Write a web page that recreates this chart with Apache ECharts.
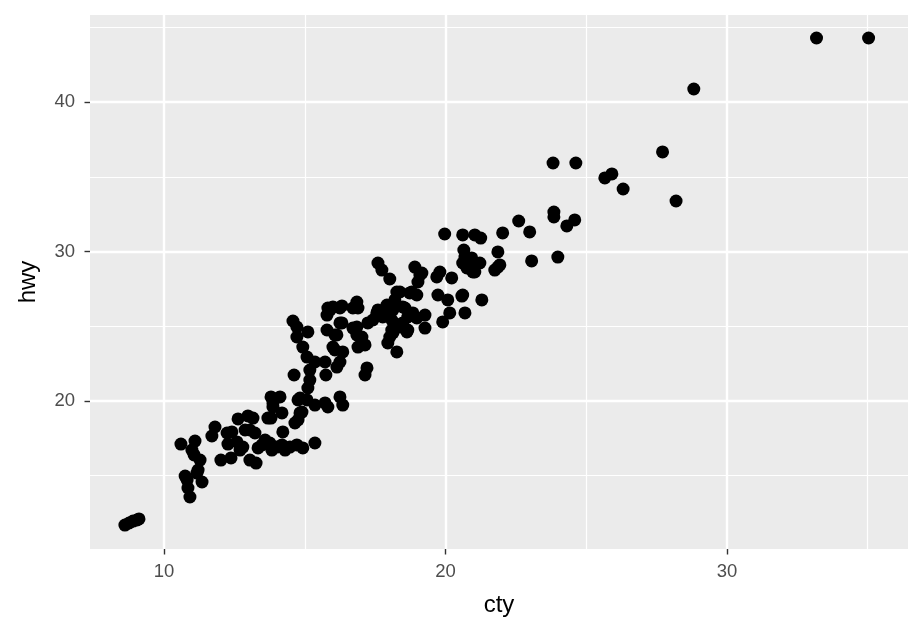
<!DOCTYPE html>
<html>
<head>
<meta charset="utf-8">
<script src="https://cdn.jsdelivr.net/npm/echarts@6/dist/echarts.min.js"></script>
<style>
html,body{margin:0;padding:0;background:#fff;}
#chart{width:922px;height:634px;}
</style>
</head>
<body>
<div id="chart"></div>
<script>
// ---- data (jittered points) ----
const cty = [
8.61,8.76,8.90,9.04,9.11,
10.60,11.10,10.99,11.28,11.21,10.82,11.35,10.85,10.92,11.17,11.07,10.75,
11.81,11.70,12.24,12.27,12.63,12.98,13.16,13.05,13.23,12.59,12.80,12.70,12.02,12.38,13.05,13.27,13.34,13.76,13.83,14.19,14.30,14.22,13.80,13.80,14.12,13.87,14.19,14.72,14.65,14.76,14.93,15.36,14.83,13.87,14.90,14.76,12.88,12.41,13.69,13.48,14.01,14.47,13.59,
14.58,14.72,15.11,14.72,14.93,15.08,15.36,15.72,15.18,14.62,15.75,15.18,15.11,14.83,15.08,15.36,15.72,15.82,16.25,16.35,15.79,16.07,16.25,16.07,16.35,16.25,16.14,15.82,16.00,16.32,15.79,16.32,16.14,16.00,
17.21,17.14,16.71,17.03,16.89,17.14,17.95,18.27,18.13,18.48,18.63,19.27,17.56,18.02,18.48,18.84,19.27,16.85,16.89,17.60,17.74,18.02,18.91,19.09,19.02,17.60,17.92,18.20,18.13,17.77,18.09,18.56,18.66,18.38,18.09,18.98,17.42,17.24,16.85,18.27,18.80,18.98,16.85,18.02,16.71,16.25,15.90,
19.69,19.80,20.22,19.73,20.08,20.58,20.69,20.15,19.90,19.97,20.61,21.04,21.25,20.65,20.69,20.61,20.76,20.97,20.86,21.22,21.04,21.86,21.75,21.93,21.86,22.03,22.60,22.99,23.06,23.99,18.73,20.61,21.29,19.16,18.38,18.66,20.79,20.93,
23.85,23.85,24.59,24.31,23.82,24.63,25.66,25.91,26.31,27.71,28.19,28.82,33.18,35.03
];
const hwy = [
11.70,11.84,11.97,12.04,12.11,
17.12,17.32,16.72,16.05,15.38,14.71,14.58,14.18,13.58,15.18,16.39,14.98,
18.26,17.66,17.86,17.12,18.80,19.00,18.86,18.06,17.86,17.26,16.92,16.72,16.05,16.19,16.05,15.85,16.86,17.19,16.72,17.06,16.72,17.93,18.86,20.27,20.27,19.60,19.20,17.06,18.53,20.07,16.86,17.19,19.20,19.87,19.26,18.73,18.06,17.93,18.86,17.06,16.92,16.92,17.39,
25.35,24.95,24.62,24.28,23.61,22.94,22.61,22.61,22.07,21.74,21.74,21.40,20.87,20.20,20.07,19.73,19.87,19.60,20.27,19.73,24.75,24.42,25.22,23.41,23.28,22.61,22.27,26.22,26.29,26.36,25.75,25.22,24.42,23.61,
22.21,21.74,24.88,24.28,23.61,23.75,23.88,23.28,24.55,25.22,24.62,24.88,25.89,26.09,26.29,25.89,25.75,26.62,26.22,29.23,28.76,28.16,28.96,28.43,27.96,26.09,26.42,26.76,26.09,25.62,25.42,26.22,25.62,24.95,24.75,25.55,25.42,25.22,24.95,27.29,27.29,27.09,24.42,24.28,26.22,26.22,26.09,
28.30,28.63,28.23,27.09,26.76,27.02,25.89,25.89,25.29,31.17,31.11,31.11,30.90,30.10,29.63,29.23,28.90,28.63,29.23,29.23,28.63,28.96,28.76,29.10,29.97,31.24,32.04,31.31,29.37,29.63,27.23,27.09,26.76,28.56,27.29,24.75,29.43,29.57,
32.64,32.31,32.11,31.71,35.92,35.92,34.92,35.19,34.18,36.66,33.38,40.87,44.28,44.28
];
const xTicks = [10, 20, 30];
const xMinor = [15, 25, 35];
const yTicks = [20, 30, 40];
const yMinor = [15, 25, 35, 45];
const xRange = [7.37, 36.43];
const yRange = [10.10, 45.82];

// ---- chart ----
const FONT = '"Liberation Sans", Arial, Helvetica, sans-serif';
const points = cty.map((c, i) => [c, hwy[i]]);

const gridLines = []
  .concat(xMinor.map(v => ({ xAxis: v, lineStyle: { width: 1.2 } })))
  .concat(yMinor.map(v => ({ yAxis: v, lineStyle: { width: 1.2 } })))
  .concat(xTicks.map(v => ({ xAxis: v, lineStyle: { width: 2.4 } })))
  .concat(yTicks.map(v => ({ yAxis: v, lineStyle: { width: 2.4 } })));

const chart = echarts.init(document.getElementById('chart'), null, { renderer: 'canvas' });
chart.setOption({
  animation: false,
  backgroundColor: '#ffffff',
  grid: {
    left: 90, top: 15, right: 14, bottom: 85,
    show: true, backgroundColor: '#EBEBEB', borderWidth: 0
  },
  xAxis: {
    type: 'value',
    min: xRange[0], max: xRange[1],
    name: 'cty', nameLocation: 'middle', nameGap: 44,
    nameTextStyle: { fontFamily: FONT, fontSize: 24, color: '#000' },
    axisLine: { show: false },
    axisTick: { show: true, customValues: xTicks, length: 5.5, lineStyle: { color: '#333333', width: 1.4 } },
    axisLabel: { customValues: xTicks, margin: 13, fontFamily: FONT, fontSize: 18.5, color: '#4D4D4D' },
    splitLine: { show: false },
    minorSplitLine: { show: false }
  },
  yAxis: {
    type: 'value',
    min: yRange[0], max: yRange[1],
    name: 'hwy', nameLocation: 'middle', nameGap: 50,
    nameTextStyle: { fontFamily: FONT, fontSize: 24, color: '#000' },
    axisLine: { show: false },
    axisTick: { show: true, customValues: yTicks, length: 5.5, lineStyle: { color: '#333333', width: 1.4 } },
    axisLabel: { customValues: yTicks, margin: 15, fontFamily: FONT, fontSize: 18.5, color: '#4D4D4D' },
    splitLine: { show: false },
    minorSplitLine: { show: false }
  },
  series: [
    {
      type: 'scatter',
      z: 1,
      data: [],
      silent: true,
      markLine: {
        z: 1,
        silent: true,
        symbol: ['none', 'none'],
        label: { show: false },
        emphasis: { disabled: true },
        lineStyle: { color: '#ffffff', type: 'solid' },
        data: gridLines
      }
    },
    {
      type: 'scatter',
      z: 10,
      symbol: 'circle',
      symbolSize: 13,
      itemStyle: { color: '#000000', opacity: 1 },
      data: points
    }
  ]
});
</script>
</body>
</html>
